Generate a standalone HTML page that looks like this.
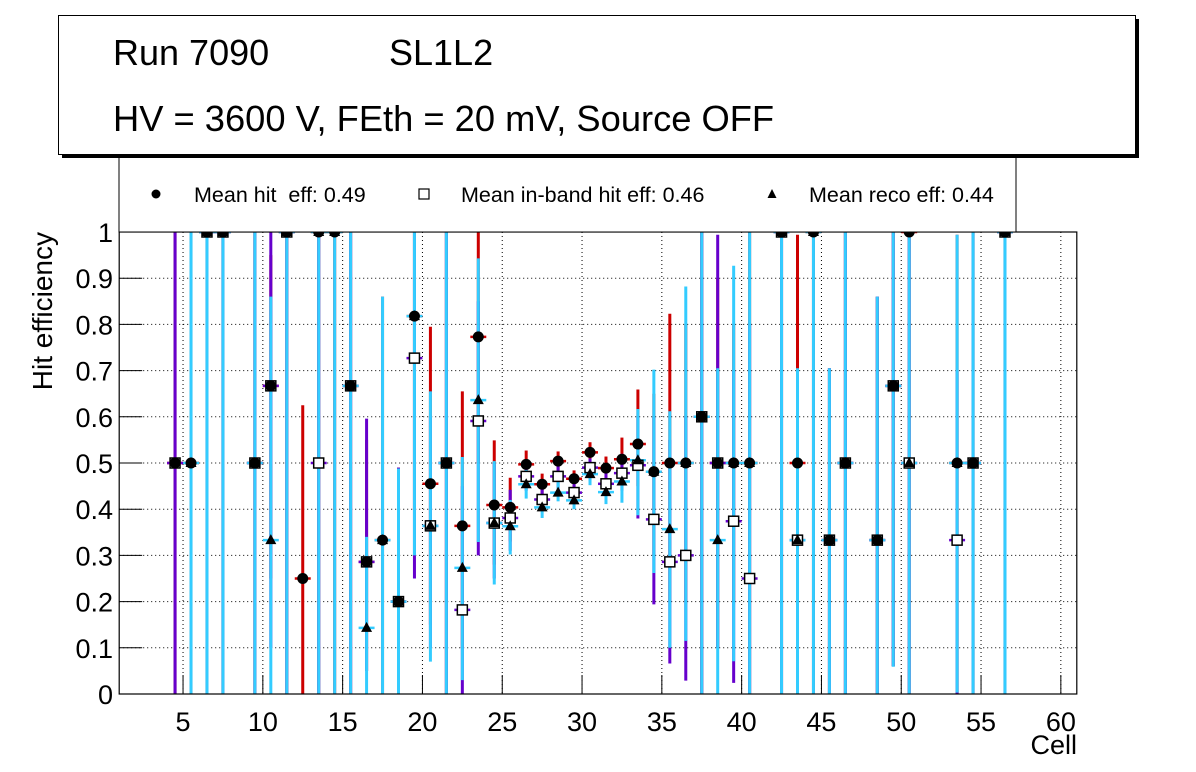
<!DOCTYPE html>
<html><head><meta charset="utf-8"><style>
html,body{margin:0;padding:0;background:#fff;}
svg{display:block;font-family:"Liberation Sans",Arial,sans-serif;}
</style></head><body>
<svg id="chart" width="1196" height="772" viewBox="0 0 1196 772" xmlns="http://www.w3.org/2000/svg">
<rect x="0" y="0" width="1196" height="772" fill="#fff"/>
<g id="grid"></g>
<g id="series"></g>
<g id="markers"></g>
<g id="axes"></g>
<g>
  <rect x="119" y="150" width="897" height="82" fill="#fff" stroke="#000" stroke-width="1"/>
  <circle cx="156" cy="194" r="4.5" fill="#000"/>
  <text x="194" y="202" font-size="21.5">Mean hit&#160; eff: 0.49</text>
  <rect x="419" y="189" width="10" height="10" fill="#fff" stroke="#000" stroke-width="1.2"/>
  <text x="461" y="202" font-size="21.5">Mean in-band hit eff: 0.46</text>
  <polygon points="772,189 776.5,198 767.5,198" fill="#000"/>
  <text x="809" y="202" font-size="21.5">Mean reco eff: 0.44</text>
</g>
<g>
  <rect x="62" y="19" width="1077" height="139" fill="#000"/>
  <rect x="58.5" y="15.5" width="1077" height="139" fill="#fff" stroke="#000" stroke-width="1"/>
  <text x="113" y="65" font-size="36">Run 7090</text>
  <text x="389" y="65" font-size="36">SL1L2</text>
  <text x="113" y="131" font-size="36.3">HV = 3600 V, FEth = 20 mV, Source OFF</text>
</g>
</svg>
<script>
const xTicks = [5,10,15,20,25,30,35,40,45,50,55,60];
const yTicks = [0,0.1,0.2,0.3,0.4,0.5,0.6,0.7,0.8,0.9,1];
const yTickLabels = ["0","0.1","0.2","0.3","0.4","0.5","0.6","0.7","0.8","0.9","1"];
const cells = [4.5,5.5,6.5,7.5,9.5,10.5,11.5,12.5,13.5,14.5,15.5,16.5,17.5,18.5,19.5,20.5,21.5,22.5,23.5,24.5,25.5,26.5,27.5,28.5,29.5,30.5,31.5,32.5,33.5,34.5,35.5,36.5,37.5,38.5,39.5,40.5,42.5,43.5,44.5,45.5,46.5,48.5,49.5,50.5,53.5,54.5,56.5];
const hitEff = [0.5,0.5,1,1,0.5,0.667,1,0.25,1,1,0.667,0.286,0.333,0.2,0.818,0.455,0.5,0.364,0.773,0.409,0.404,0.497,0.454,0.504,0.466,0.523,0.489,0.508,0.541,0.481,0.5,0.5,0.6,0.5,0.5,0.5,1,0.5,1,0.333,0.5,0.333,0.667,1,0.5,0.5,1];
const hitLo = [0,0,0,0,0,0.25,0,0,0,0,0,0.05,0,0,0.4,0.15,0,0.1,0.5,0.28,0.33,0.46,0.43,0.47,0.44,0.5,0.46,0.47,0.45,0.3,0.2,0.2,0,0.1,0.2,0,0,0.2,0,0,0,0,0.06,0,0,0,0];
const hitHi = [1,1,1,1,1,0.95,1,0.625,1,1,1,0.55,0.86,0.49,1,0.795,1,0.655,1,0.549,0.468,0.527,0.477,0.525,0.484,0.545,0.514,0.555,0.659,0.65,0.823,0.8,1,0.9,0.8,1,1,0.994,1,0.705,1,0.86,1,1,0.994,1,1];
const inbandEff = [0.5,null,1,1,0.5,0.667,1,null,0.5,null,0.667,0.286,null,0.2,0.727,0.364,0.5,0.182,0.591,0.37,0.381,0.471,0.421,0.471,0.436,0.49,0.455,0.478,0.495,0.378,0.286,0.3,0.6,0.5,0.374,0.25,1,0.333,null,0.333,0.5,0.333,0.667,0.5,0.333,0.5,1];
const inbandLo = [0,0,0,0,0,0.1,0,0,0,0,0,0.05,0,0,0.25,0.1,0,0,0.3,0.25,0.31,0.44,0.4,0.44,0.41,0.46,0.43,0.44,0.38,0.194,0.066,0.029,0,0.1,0.024,0,0,0,0,0,0,0,0.06,0,0,0,0];
const inbandHi = [1,1,1,1,1,1,1,1,1,1,1,0.596,1,0.49,1,0.6,1,0.45,0.85,0.5,0.442,0.5,0.45,0.5,0.46,0.51,0.48,0.52,0.6,0.6,0.55,0.6,1,0.994,0.7,0.8,1,0.65,1,0.705,1,0.86,1,1,0.7,1,1];
const recoEff = [null,0.5,1,1,0.5,0.333,1,null,1,1,0.667,0.143,0.333,0.2,0.818,0.364,0.5,0.273,0.636,0.37,0.363,0.454,0.404,0.436,0.419,0.476,0.437,0.46,0.506,0.481,0.357,0.5,0.6,0.333,0.5,0.5,1,0.333,1,0.333,0.5,0.333,0.667,0.5,0.5,0.5,1];
const recoLo = [0,0,0,0,0,0,0,0,0,0,0,0,0,0,0.3,0.07,0,0.03,0.329,0.237,0.302,0.423,0.381,0.417,0.4,0.452,0.411,0.414,0.387,0.262,0.1,0.115,0,0,0.071,0,0,0,0,0,0,0,0.059,0,0.003,0,0];
const recoHi = [1,1,1,1,1,0.86,1,1,1,1,1,0.34,0.86,0.488,1,0.655,1,0.513,0.943,0.504,0.42,0.485,0.43,0.46,0.44,0.5,0.46,0.49,0.617,0.702,0.612,0.882,1,0.705,0.927,1,1,0.705,1,0.705,1,0.86,1,1,0.994,1,1];

const X0=119.2, X1=1076.8, XMIN=1, XMAX=61;
const Y0=694, Y1=232;
function xs(v){return X0+(v-XMIN)/(XMAX-XMIN)*(X1-X0);}
function ys(v){return Y0-v*(Y0-Y1);}
const NS="http://www.w3.org/2000/svg";
function mk(tag,attrs,parent){const e=document.createElementNS(NS,tag);for(const k in attrs)e.setAttribute(k,attrs[k]);parent.appendChild(e);return e;}
const grid=document.getElementById('grid'), axes=document.getElementById('axes'), ser=document.getElementById('series'), mkr=document.getElementById('markers');

xTicks.forEach(function(t){
  const l=mk('line',{x1:xs(t),x2:xs(t),y1:Y1,y2:Y0,stroke:'#000','stroke-width':1,'stroke-dasharray':'1,3'},grid);
  
  
  const tk=mk('line',{x1:xs(t),x2:xs(t),y1:Y0,y2:Y0-19,stroke:'#000','stroke-width':1},axes);
  
  
  const tx=mk('text',{x:xs(t),y:731,'font-size':27,'text-anchor':'middle'},axes);
  tx.textContent=String(t);
  
  
});
yTicks.forEach(function(t,i){
  if(t>0&&t<1){
    const l=mk('line',{x1:X0,x2:X1,y1:ys(t),y2:ys(t),stroke:'#000','stroke-width':1,'stroke-dasharray':'1,3'},grid);
    
    
  }
  const tk=mk('line',{x1:X0,x2:X0+23,y1:ys(t),y2:ys(t),stroke:'#000','stroke-width':1},axes);
  
  
  const tx=mk('text',{x:113,y:ys(t)+10,'font-size':27,'text-anchor':'end'},axes);
  tx.textContent=yTickLabels[i];
  
  
});
const frame=mk('rect',{x:X0,y:Y1,width:X1-X0,height:Y0-Y1,fill:'none',stroke:'#000','stroke-width':1.2},axes);


const yt=mk('text',{x:0,y:0,'font-size':28,'text-anchor':'end',transform:'translate(52,232) rotate(-90)'},axes);
yt.textContent='Hit efficiency';


const xt=mk('text',{x:1077,y:754,'font-size':27,'text-anchor':'end'},axes);
xt.textContent='Cell';



function drawBars(vals,lo,hi,color,name){
  const g=mk('g',{},ser);
  
  
  cells.forEach(function(c,i){
    const v=vals[i]; if(v===null||v===undefined)return;
    const cx=xs(c), cy=ys(v);
    const eb=mk('line',{x1:cx,x2:cx,y1:ys(lo[i]),y2:ys(hi[i]),stroke:color,'stroke-width':3},g);
    
    
    const hb=mk('line',{x1:xs(c-0.5),x2:xs(c+0.5),y1:cy,y2:cy,stroke:color,'stroke-width':2.5},g);
    
    
  });
}
function drawMarkers(vals,marker,name){
  const g=mk('g',{},mkr);
  
  
  cells.forEach(function(c,i){
    const v=vals[i]; if(v===null||v===undefined)return;
    const cx=xs(c), cy=ys(v);
    let m;
    if(marker==='circle') m=mk('circle',{cx:cx,cy:cy,r:5.5,fill:'#000'},g);
    else if(marker==='square') m=mk('rect',{x:cx-5,y:cy-5,width:10,height:10,fill:'#fff',stroke:'#000','stroke-width':1.5},g);
    else m=mk('polygon',{points:(cx)+','+(cy-6)+' '+(cx+5.5)+','+(cy+4)+' '+(cx-5.5)+','+(cy+4),fill:'#000'},g);
    
    
  });
}
drawBars(hitEff,hitLo,hitHi,'#cc0000','hit-eff');
drawBars(inbandEff,inbandLo,inbandHi,'#6600cc','inband-eff');
drawBars(recoEff,recoLo,recoHi,'#33ccff','reco-eff');
drawMarkers(inbandEff,'square','inband-eff');
drawMarkers(hitEff,'circle','hit-eff');
drawMarkers(recoEff,'triangle','reco-eff');
</script>
</body></html>
